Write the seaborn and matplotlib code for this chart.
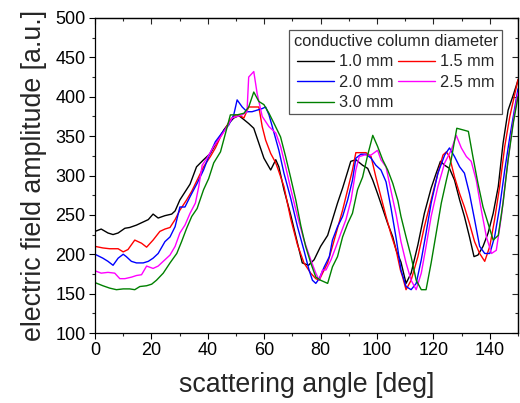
import matplotlib
matplotlib.use("Agg")
import matplotlib.pyplot as plt
import seaborn as sns
import pandas as pd
from matplotlib.ticker import MultipleLocator

# ---------------- data ----------------
angle_10 = [0, 2.2, 4.6, 6.4, 8.2, 10.6, 12.3, 14.7, 17.1, 18.9, 20.6, 22.4, 24.8, 27.2, 28.4,
            30.1, 31.9, 33.7, 36.0, 38.5, 40.9, 43.3, 45.7, 47.4, 49.2, 51.0, 52.8, 54.5, 56.3,
            58.1, 59.9, 62.3, 64.1, 65.2, 67.0, 69.4, 71.8, 73.5, 75.7, 77.7, 80.0, 82.5, 84.2,
            86.0, 87.8, 89.6, 90.7, 92.5, 94.9, 96.7, 98.5, 100.2, 102.0, 103.8, 105.6, 106.8,
            108.5, 110.3, 112.1, 114.5, 116.8, 119.2, 121.0, 122.5, 124.0, 125.7, 127.5, 129.3,
            131.0, 132.8, 134.4, 135.8, 137.6, 139.4, 141.2, 143.0, 144.7, 146.5, 148.3, 150.0]
amp_10 = [229, 232, 227, 225, 227, 233, 234, 237, 241, 244, 251, 246, 249, 251, 255,
          269, 279, 289, 311, 320, 328, 343, 358, 366, 373, 376, 371, 366, 360,
          341, 322, 307, 320, 311, 282, 250, 214, 189, 186, 193, 210, 224, 244,
          265, 284, 305, 318, 320, 313, 309, 294, 277, 258, 239, 222, 205,
          190, 163, 176, 212, 252, 284, 303, 318, 313, 309, 294, 269,
          248, 222, 197, 199, 210, 227, 252, 286, 341, 383, 402, 421]

angle_15 = [0, 2.8, 5.2, 8.2, 10.0, 11.7, 14.1, 16.5, 18.3, 20.6, 23.0, 24.8, 26.6, 28.4, 30.1,
            32.5, 34.3, 36.2, 38.5, 40.9, 42.7, 44.5, 46.3, 48.0, 49.8, 51.0, 52.8, 54.5, 56.3,
            58.1, 59.3, 60.5, 62.3, 64.1, 65.2, 67.0, 69.4, 71.8, 74.1, 76.5, 78.3, 79.5, 80.7,
            82.5, 84.2, 86.0, 87.8, 89.6, 91.3, 92.5, 94.3, 96.1, 97.9, 99.6, 101.4, 103.2,
            105.0, 106.8, 108.3, 109.1, 110.3, 112.1, 114.5, 116.8, 119.2, 121.6, 123.4, 124.6,
            125.7, 127.5, 129.3, 131.0, 132.8, 134.6, 136.4, 138.2, 140.0, 141.7, 143.5, 145.3,
            147.1, 148.9, 150.0]
amp_15 = [210, 208, 207, 207, 203, 206, 218, 214, 209, 218, 229, 232, 234, 244, 256,
          269, 280, 294, 311, 324, 335, 349, 360, 371, 377, 377, 373, 387, 387,
          387, 362, 345, 328, 316, 305, 286, 245, 212, 189, 176, 169, 167, 176,
          189, 210, 233, 256, 282, 307, 329, 329, 329, 324, 298, 273, 248,
          225, 205, 180, 171, 155, 167, 197, 235, 269, 303, 326, 330,
          324, 298, 277, 260, 239, 216, 201, 191, 210, 244, 286, 337,
          375, 404, 422]

angle_20 = [0, 2.8, 4.6, 6.4, 8.2, 10.0, 11.1, 12.9, 14.7, 17.1, 18.9, 20.6, 22.4, 24.8, 26.6,
            28.4, 30.1, 31.9, 33.7, 36.2, 38.5, 40.3, 42.7, 45.0, 47.4, 49.2, 50.4, 52.2, 53.9,
            55.7, 57.5, 59.3, 60.5, 61.7, 63.5, 65.2, 67.0, 69.4, 71.8, 74.1, 75.9, 77.1, 78.3,
            79.5, 81.3, 83.1, 84.2, 86.0, 87.8, 89.6, 91.3, 92.5, 94.3, 96.1, 97.9, 99.6,
            101.4, 103.2, 105.0, 106.8, 108.5, 110.3, 112.1, 113.9, 115.7, 117.4, 119.2, 121.6,
            124.0, 125.7, 127.5, 129.3, 131.0, 132.8, 134.6, 136.4, 138.2, 140.0, 141.7, 143.5,
            145.3, 147.1, 148.9, 150.0]
amp_20 = [200, 195, 191, 186, 195, 200, 197, 191, 189, 189, 191, 195, 201, 216, 222,
          235, 260, 260, 273, 290, 307, 324, 343, 354, 364, 377, 396, 387, 381,
          381, 383, 385, 387, 377, 354, 332, 303, 271, 235, 205, 180, 167, 163,
          169, 184, 197, 218, 235, 248, 269, 294, 322, 327, 327, 322, 313,
          307, 292, 258, 220, 180, 159, 155, 163, 193, 227, 265, 303,
          326, 335, 324, 311, 303, 277, 244, 210, 201, 201, 222, 260,
          307, 349, 387, 410]

angle_25 = [0, 2.2, 4.6, 7.0, 8.8, 10.6, 13.0, 14.7, 16.5, 18.3, 20.6, 22.4, 24.8, 26.6, 28.4,
            30.1, 31.9, 33.7, 35.6, 36.8, 38.0, 39.7, 42.1, 44.5, 46.9, 48.6, 50.4, 52.2, 53.9,
            54.5, 56.3, 57.5, 59.3, 61.7, 64.1, 65.8, 67.6, 69.4, 71.8, 74.1, 76.5, 78.3, 79.5,
            80.7, 81.9, 83.7, 85.5, 87.2, 89.0, 90.8, 92.5, 93.7, 95.5, 97.9, 100.2, 101.4,
            103.2, 105.0, 106.8, 108.5, 110.3, 112.1, 113.9, 115.7, 117.4, 119.2, 121.6, 124.0,
            126.3, 128.1, 129.9, 131.7, 133.4, 135.2, 137.0, 138.8, 140.6, 142.3, 144.1, 145.9,
            147.7, 149.5, 150.0]
amp_25 = [179, 176, 177, 176, 169, 169, 171, 173, 174, 185, 182, 185, 193, 199, 210,
          227, 237, 252, 265, 286, 313, 322, 337, 349, 362, 373, 375, 377, 381,
          425, 432, 404, 375, 362, 354, 337, 311, 283, 248, 218, 193, 176, 167,
          180, 180, 193, 210, 227, 244, 269, 307, 324, 326, 326, 332, 320,
          311, 280, 250, 216, 189, 167, 155, 176, 210, 248, 286, 316,
          332, 351, 335, 324, 318, 294, 256, 222, 201, 205, 248, 303,
          354, 396, 405]

angle_30 = [0, 2.8, 5.2, 7.6, 10.0, 12.3, 14.1, 15.9, 18.3, 20.1, 21.8, 24.2, 26.6, 29.0, 30.7,
            32.5, 34.3, 36.2, 38.5, 40.3, 42.1, 44.5, 46.3, 48.0, 50.4, 52.8, 54.5, 56.3, 58.1,
            59.9, 61.7, 63.5, 65.8, 67.6, 69.4, 71.2, 73.0, 74.7, 76.5, 78.3, 80.0, 82.5, 84.2,
            86.0, 87.8, 89.6, 91.3, 93.1, 94.9, 96.7, 98.5, 100.2, 102.0, 103.8, 105.6, 107.4,
            108.5, 110.3, 112.1, 113.9, 115.7, 117.4, 119.2, 121.0, 122.8, 124.6, 126.3, 128.3,
            130.4, 132.4, 134.0, 135.8, 137.6, 139.4, 141.2, 143.0, 144.7, 146.5, 148.3, 150.0]
amp_30 = [164, 160, 157, 155, 156, 156, 155, 159, 160, 162, 167, 176, 189, 201, 216,
          233, 248, 258, 282, 296, 316, 330, 354, 377, 377, 379, 387, 406, 394,
          390, 379, 366, 349, 324, 297, 269, 236, 210, 189, 171, 167, 163, 184,
          197, 222, 239, 252, 282, 298, 326, 351, 337, 320, 307, 290, 268,
          248, 222, 197, 167, 155, 155, 189, 227, 265, 294, 320, 360,
          358, 356, 324, 290, 260, 239, 218, 224, 265, 320, 366, 400]

labels = ["1.0 mm", "1.5 mm", "2.0 mm", "2.5 mm", "3.0 mm"]
colors = ["#000000", "#ff0000", "#0000ff", "#ff00ff", "#008000"]
x_ticks = [0, 20, 40, 60, 80, 100, 120, 140]
y_ticks = [100, 150, 200, 250, 300, 350, 400, 450, 500]

series = [(angle_10, amp_10), (angle_15, amp_15), (angle_20, amp_20),
          (angle_25, amp_25), (angle_30, amp_30)]

# ---------------- plot ----------------
sns.set_style("ticks")
plt.rcParams["font.family"] = ["Liberation Sans", "DejaVu Sans"]

fig = plt.figure(figsize=(5.2, 4.03), dpi=100)
ax = fig.add_axes([95 / 520, 1 - 333 / 403, 423 / 520, 315 / 403])

for (xs, ys), lab, col in zip(series, labels, colors):
    df = pd.DataFrame({"angle": xs, "amp": ys})
    sns.lineplot(data=df, x="angle", y="amp", color=col, linewidth=1.0,
                 label=lab, ax=ax, sort=False, estimator=None)

ax.set_xlim(0, 150)
ax.set_ylim(100, 500)
ax.set_xticks(x_ticks)
ax.set_yticks(y_ticks)
ax.xaxis.set_minor_locator(MultipleLocator(10))
ax.yaxis.set_minor_locator(MultipleLocator(25))
ax.tick_params(which="major", direction="out", length=4.3, width=0.8,
               labelsize=13, pad=2.5, colors="black")
ax.tick_params(which="minor", direction="out", length=2.2, width=0.8)
for s in ax.spines.values():
    s.set_visible(True)
    s.set_linewidth(0.9)
    s.set_color("black")

secx = ax.secondary_xaxis("top")
secx.set_xticks(x_ticks)
secx.xaxis.set_minor_locator(MultipleLocator(10))
secx.tick_params(which="major", direction="in", length=4.3, width=0.8, labeltop=False)
secx.tick_params(which="minor", direction="in", length=2.2, width=0.8)
secx.spines["top"].set_linewidth(0.9)

secy = ax.secondary_yaxis("right")
secy.set_yticks(y_ticks)
secy.yaxis.set_minor_locator(MultipleLocator(25))
secy.tick_params(which="major", direction="in", length=4.3, width=0.8, labelright=False)
secy.tick_params(which="minor", direction="in", length=2.2, width=0.8)
secy.spines["right"].set_linewidth(0.9)

ax.set_xlabel("scattering angle [deg]", fontsize=19.3, labelpad=9)
ax.set_ylabel("electric field amplitude [a.u.]", fontsize=19.3, labelpad=6)

handles, labs = ax.get_legend_handles_labels()
order = [0, 2, 4, 1, 3]
leg = ax.legend([handles[i] for i in order], [labs[i] for i in order],
                title="conductive column diameter", ncol=2,
                loc="upper right", bbox_to_anchor=(0.962, 0.962), borderaxespad=0,
                fontsize=11.8, title_fontsize=11.8, handlelength=2.25,
                handletextpad=0.3, columnspacing=0.3, labelspacing=0.33,
                borderpad=0.25, frameon=True, fancybox=False, framealpha=1,
                edgecolor="#555555")
leg.get_frame().set_linewidth(0.9)
for lh in leg.get_lines():
    lh.set_linewidth(1.0)

fig.savefig("out.png", dpi=100, facecolor="white")
